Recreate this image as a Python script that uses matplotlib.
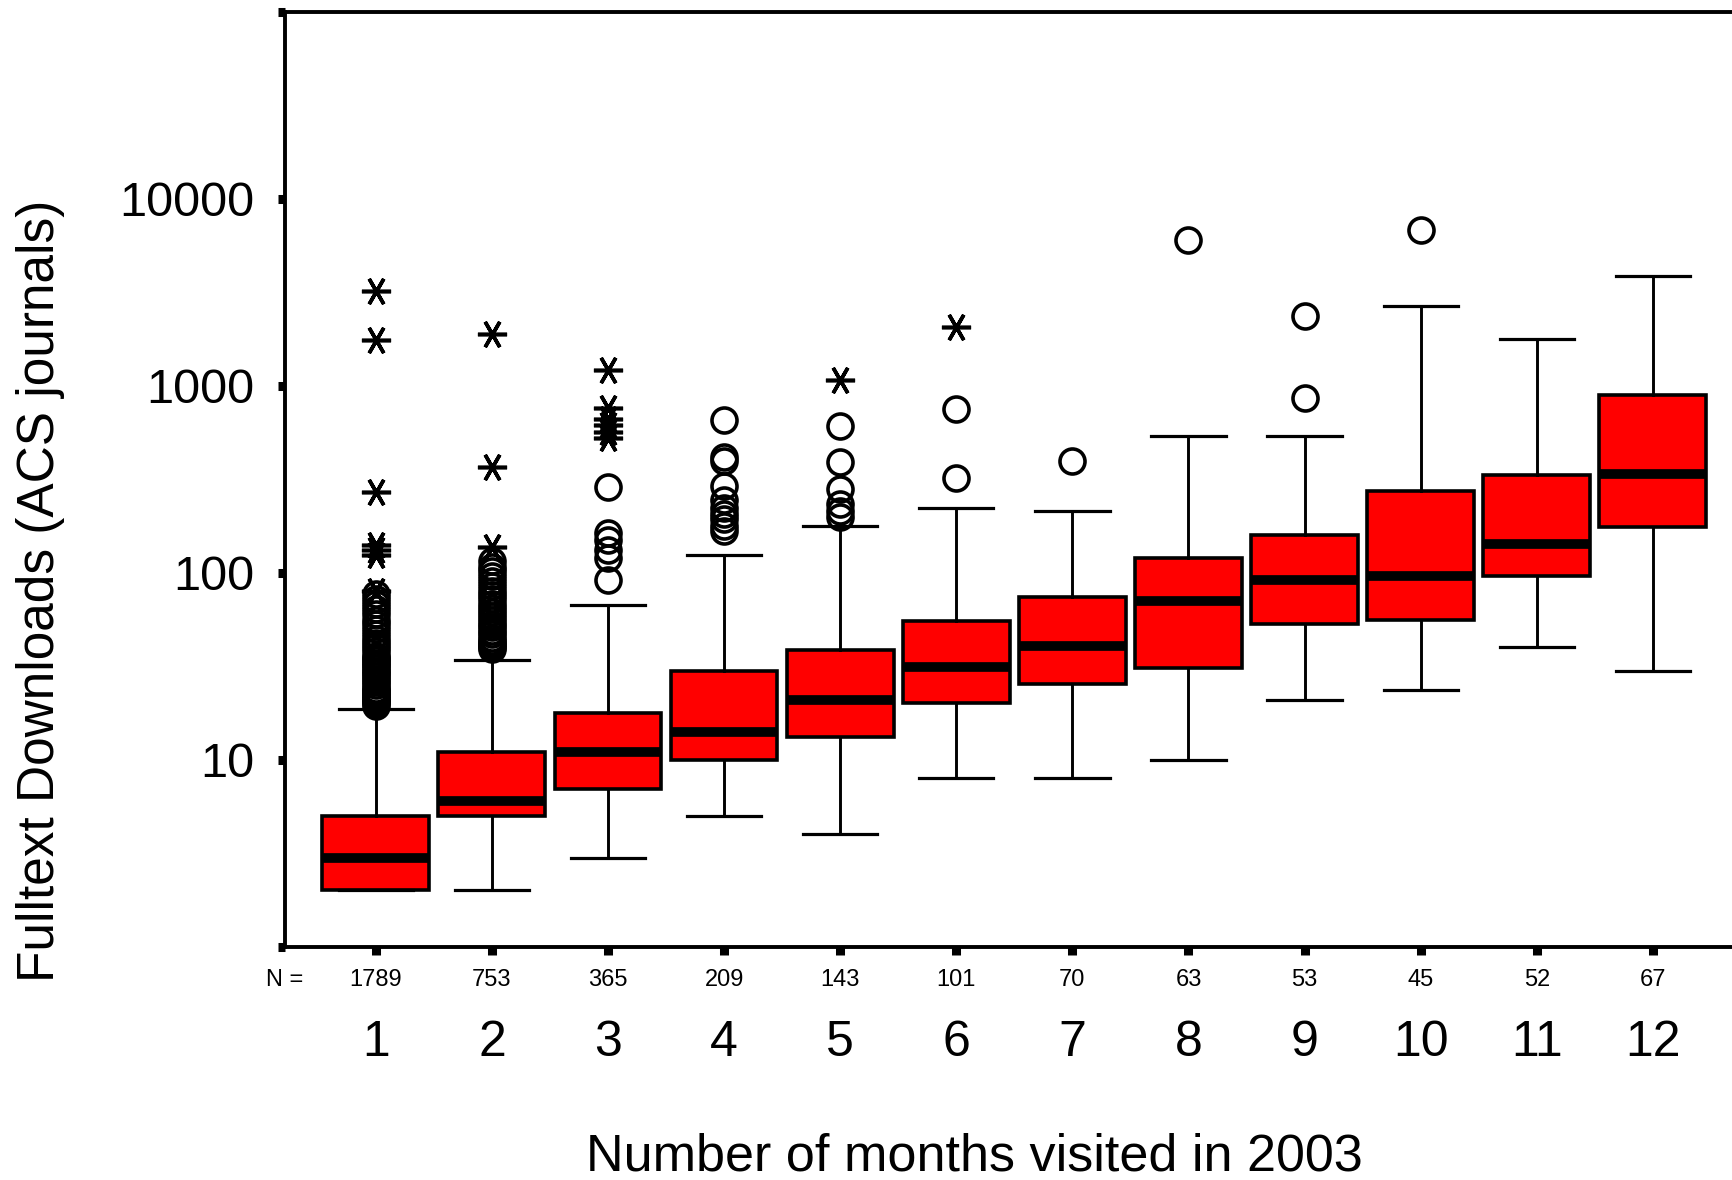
from __future__ import annotations

import matplotlib

matplotlib.use("Agg")
import matplotlib.pyplot as mp

# number of months visited (one box per month)
months = [1, 2, 3, 4, 5, 6, 7, 8, 9, 10, 11, 12]
n_counts = [1789, 753, 365, 209, 143, 101, 70, 63, 53, 45, 52, 67]

# box statistics (fulltext downloads)
q1 = [2, 5, 7, 10, 13.3, 20, 25.5, 31, 53.5, 56, 96, 175]
med = [3, 6, 11, 14, 21, 31.5, 40.5, 71, 92, 96, 143, 336]
q3 = [5, 11, 17.7, 30, 38.5, 55.5, 74, 120, 159, 274, 332, 897]
whislo = [2, 2, 3, 5, 4, 8, 8, 10, 21, 23.6, 40, 30]
whishi = [18.6, 34, 67.6, 124, 179, 221, 213, 540, 542, 2667, 1773, 3853]

# outliers (circles) and extremes (asterisks)
outliers = [
    [19.5, 20, 20.5, 21, 21.5, 22, 22.5, 23, 23.5, 24, 25, 26, 27, 28, 29,
     30, 31, 32, 33, 34, 35, 36, 38, 40, 42, 44, 47, 50, 53, 56, 60, 64,
     68, 72, 77],
    [39, 40, 41, 42, 43, 45, 47, 49, 51, 53, 56, 59, 62, 65, 68, 72, 76,
     80, 85, 90, 96, 102, 108, 115],
    [92, 120, 133, 150, 163, 289],
    [167, 179, 193, 207, 222, 244, 291, 395, 418, 659],
    [200, 215, 232, 281, 390, 609],
    [320, 750],
    [395],
    [6040],
    [861, 2360],
    [6830],
    [],
    [],
]
extremes = [
    [80, 125, 133, 141, 272, 1754, 3200],
    [138, 370, 1900],
    [524, 570, 615, 665, 757, 1213],
    [],
    [1070],
    [2070],
    [], [], [], [], [], [],
]

W, H, DPI = 1733, 1180, 100


def main() -> int:
    mp.rcParams["font.family"] = ["Liberation Sans", "DejaVu Sans"]

    fig = mp.figure(figsize=(W / DPI, H / DPI), dpi=DPI)
    left, top, bottom = 285 / W, 12 / H, 946.7 / H
    ax = fig.add_axes([left, 1 - bottom, 1 - left, bottom - top])

    stats = [
        {"q1": a, "med": m, "q3": b, "whislo": lo, "whishi": hi, "fliers": []}
        for a, m, b, lo, hi in zip(q1, med, q3, whislo, whishi)
    ]
    ax.bxp(
        stats,
        positions=months,
        widths=0.92,
        capwidths=0.64,
        patch_artist=True,
        showfliers=False,
        boxprops={"facecolor": "#ff0000", "edgecolor": "black", "linewidth": 2.6},
        medianprops={"color": "black", "linewidth": 7, "solid_capstyle": "butt"},
        whiskerprops={"color": "black", "linewidth": 2.1},
        capprops={"color": "black", "linewidth": 2.3},
    )

    for x, vals in zip(months, outliers):
        if vals:
            ax.plot([x] * len(vals), vals, "o", ms=18, mfc="none",
                    mec="black", mew=2.6, clip_on=False)
    for x, vals in zip(months, extremes):
        if vals:
            ax.plot([x] * len(vals), vals, marker=(6, 2, 90), ls="none",
                    ms=21, color="black", mew=2.6, clip_on=False)

    ax.set_yscale("log")
    ax.set_ylim(1, 1e5)
    ax.set_xlim(0.218, 12.69)
    ax.set_yticks([1, 10, 100, 1000, 10000, 100000])
    ax.set_yticklabels(["", "10", "100", "1000", "10000", ""])
    ax.yaxis.set_minor_locator(matplotlib.ticker.NullLocator())
    ax.set_xticks(months)
    ax.set_xticklabels([str(m) for m in months])

    ax.tick_params(axis="y", direction="out", length=5.4, width=6.5,
                   labelsize=35, pad=17)
    ax.tick_params(axis="x", direction="out", length=6, width=6.5,
                   labelsize=36, pad=47)
    ax.spines["right"].set_visible(False)
    for side in ("left", "bottom", "top"):
        ax.spines[side].set_linewidth(2.8)

    # sample sizes under each box
    trans = ax.get_xaxis_transform()
    ny = -33.3 / (bottom - top) / H
    ax.text(0.214, ny, "N =", transform=trans, ha="center", va="center",
            fontsize=17)
    for x, n in zip(months, n_counts):
        ax.text(x, ny, str(n), transform=trans, ha="center", va="center",
                fontsize=17)

    fig.text(41 / W, 1 - 591 / H, "Fulltext Downloads (ACS journals)",
             rotation=90, ha="center", va="center", fontsize=37)
    fig.text(974 / W, 1 - 1157 / H, "Number of months visited in 2003",
             ha="center", va="center", fontsize=37.5)

    fig.savefig("out.png", dpi=DPI)
    mp.close(fig)
    return 0


if __name__ == "__main__":
    raise SystemExit(main())
